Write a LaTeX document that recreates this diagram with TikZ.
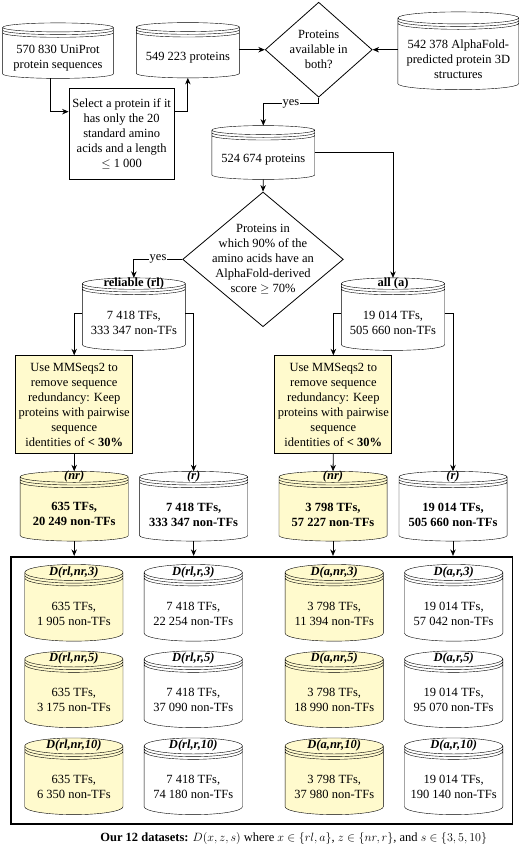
\documentclass[tikz,border=0pt]{standalone}
\usepackage{fontspec}
\setmainfont{Liberation Serif}
\usetikzlibrary{arrows.meta,shapes.geometric,backgrounds,calc}
\definecolor{pale}{RGB}{255,250,205}
\newcommand\bodyfont{\fontsize{12.5}{15}\selectfont}
\newcommand\drum[3]{%
  \draw[fill=#3] let \p1=(#1.south west), \p2=(#1.north east) in
    (\x1,\y2+#2+5.4) -- (\x1,\y1+#2)
    arc[start angle=180,end angle=360,x radius={(\x2-\x1)/2},y radius=#2pt]
    -- (\x2,\y2+#2+5.4)
    arc[start angle=0,end angle=180,x radius={(\x2-\x1)/2},y radius=#2pt] -- cycle
    (\x1,\y2+#2+5.4) arc[start angle=180,end angle=360,x radius={(\x2-\x1)/2},y radius=#2pt]
    (\x1,\y2+#2+2.7) arc[start angle=180,end angle=360,x radius={(\x2-\x1)/2},y radius=#2pt]
    (\x1,\y2+#2) arc[start angle=180,end angle=360,x radius={(\x2-\x1)/2},y radius=#2pt];
  \path ([yshift=2*#2pt+5.4pt]#1.north) coordinate (#1 top);}
\tikzset{
  >={Stealth[length=6.5pt,width=5.5pt]},
  every node/.style={font=\bodyfont,align=center},
  store/.style 2 args={minimum width=#1pt,minimum height=#2pt,inner sep=0pt},
  heading/.style 2 args={label={[anchor=center,label distance=#1]north:#2}},
  strong/.style={font=\bodyfont\bfseries},
  task/.style={draw,minimum width=117pt,minimum height=97.6pt,inner sep=0pt},
  decide/.style={draw,shape=diamond,inner sep=-12pt},
  answer/.style={fill=white,inner sep=1pt},
}
\begin{document}
\begin{tikzpicture}[x=1pt,y=1pt,line width=0.8pt]
\useasboundingbox (0,0) rectangle (520,-849);
\node[store={110}{40.3}] (sa) at (58,-57.85) {570 830 UniProt\\protein sequences};
\node[store={102.3}{40.1}] (sb) at (187.85,-57.45) {549 223 proteins};
\node[store={120}{59.6}] (sc) at (458.3,-59.5) {542 378 AlphaFold-\\predicted protein 3D\\structures};
\node[decide,minimum width=107pt,minimum height=95pt,aspect=1.13] (q1) at (318.7,-49.7) {Proteins\\available in\\both?};
\node[draw,minimum width=105.3pt,minimum height=90.7pt,inner sep=0pt] (sel) at (121.65,-133.65)
  {Select a protein if it\\has only the 20\\standard amino\\acids and a length\\$\leq$ 1 000};
\node[store={102}{38.6}] (sd) at (263.3,-159.7) {524 674 proteins};
\node[decide,minimum width=160.7pt,minimum height=134.7pt,aspect=1.19] (q2) at (263,-259.35)
  {Proteins in\\which 90\% of the\\amino acids have an\\AlphaFold-derived\\score $\geq$ 70\%};
\node[store={102.3}{54.9},heading={11.1pt}{\textbf{reliable (rl)}}] (srl) at (133.85,-322.55) {7 418 TFs,\\333 347 non-TFs};
\node[store={102.6}{54.9},heading={11.1pt}{\textbf{all (a)}}] (sall) at (393,-322.55) {19 014 TFs,\\505 660 non-TFs};
\node[task,fill=pale] (rd1) at (74.2,-404.5) {Use MMSeqs2 to\\remove sequence\\redundancy: Keep\\proteins with pairwise\\sequence\\identities of \textbf{< 30\%}};
\node[task,fill=pale] (rd2) at (333.35,-404.5) {Use MMSeqs2 to\\remove sequence\\redundancy: Keep\\proteins with pairwise\\sequence\\identities of \textbf{< 30\%}};
\foreach \nm/\px/\rd/\tf/\nt in {snr1/74.2/nr/635/20 249,sr1/193.65/r/7 418/333 347,snr2/333/nr/3 798/57 227,sr2/453/r/19 014/505 660}
  \node[store={107.3}{52.6},strong,heading={10.9pt}{\textbf{\textit{(\rd)}}}] (\nm) at (\px,-514.4) {\tf{} TFs,\\\nt{} non-TFs};
\node[draw,line width=1.6pt,minimum width=501.3pt,minimum height=267.3pt,inner sep=0pt] (dsets) at (261.65,-690.35) {};
\foreach \cl/\rd/\sz/\px/\py/\tf/\nt in {
  rl/nr/3/73.85/613.5/635/1 905,rl/nr/5/73.85/700/635/3 175,rl/nr/10/73.85/787/635/6 350,
  rl/r/3/193.3/613.5/7 418/22 254,rl/r/5/193.3/700/7 418/37 090,rl/r/10/193.3/787/7 418/74 180,
  a/nr/3/334.2/613.5/3 798/11 394,a/nr/5/334.2/700/3 798/18 990,a/nr/10/334.2/787/3 798/37 980,
  a/r/3/453.65/613.5/19 014/57 042,a/r/5/453.65/700/19 014/95 070,a/r/10/453.65/787/19 014/190 140}
  \node[store={97.5}{54.5},heading={13.4pt}{\textbf{\textit{D(\cl,\rd,\sz)}}}] (d\cl\rd\sz) at (\px,-\py) {\tf{} TFs,\\\nt{} non-TFs};
\begin{scope}[on background layer]
\foreach \nm/\r/\f in {sa/4.5/white,sb/4.5/white,sc/6/white,sd/4.5/white,srl/5.7/white,sall/5.7/white,snr1/5.5/pale,sr1/5.5/white,snr2/5.5/pale,sr2/5.5/white}
  \drum{\nm}{\r}{\f};
\foreach \cl in {rl,a} \foreach \rd/\f in {nr/pale,r/white} \foreach \sz in {3,5,10}
  \drum{d\cl\rd\sz}{8}{\f};
\end{scope}
\draw[->] ([xshift=-8pt]sa.south) |- ([yshift=22pt]sel.west);
\draw[->] ([yshift=22pt]sel.east) -| (sb.south);
\draw[->] (sb.east |- q1.west) -- (q1.west);
\draw[->] (sc.west |- q1.east) -- (q1.east);
\draw[->] (q1.south) -- ++(0,-6) -| node[answer,pos=.25] (ok1) {yes} (sd top);
\draw[->] ([yshift=7pt]sd.east) -| (sall top);
\draw[->] (sd.south) -- (q2.north);
\draw[->] (q2.west) -| node[answer,pos=.25] (ok2) {yes} (srl top);
\draw[->] ([yshift=9pt]srl.west) -| (rd1.north);
\draw[->] ([yshift=9pt]srl.east) -| (sr1 top);
\draw[->] ([yshift=9pt]sall.west) -| (rd2.north);
\draw[->] ([yshift=9pt]sall.east) -| (sr2 top);
\draw[->] (rd1.south) -- (snr1 top);
\draw[->] (rd2.south) -- (snr2 top);
\foreach \nm in {snr1,sr1,snr2,sr2} \draw[->] (\nm.south) -- (\nm.south |- dsets.north);
\node (caption) at (293.7,-838.3) {\textbf{Our 12 datasets:} $D(x,z,s)$ where $x\in\{rl,a\}$, $z\in\{nr,r\}$, and $s\in\{3,5,10\}$};
\end{tikzpicture}
\end{document}
